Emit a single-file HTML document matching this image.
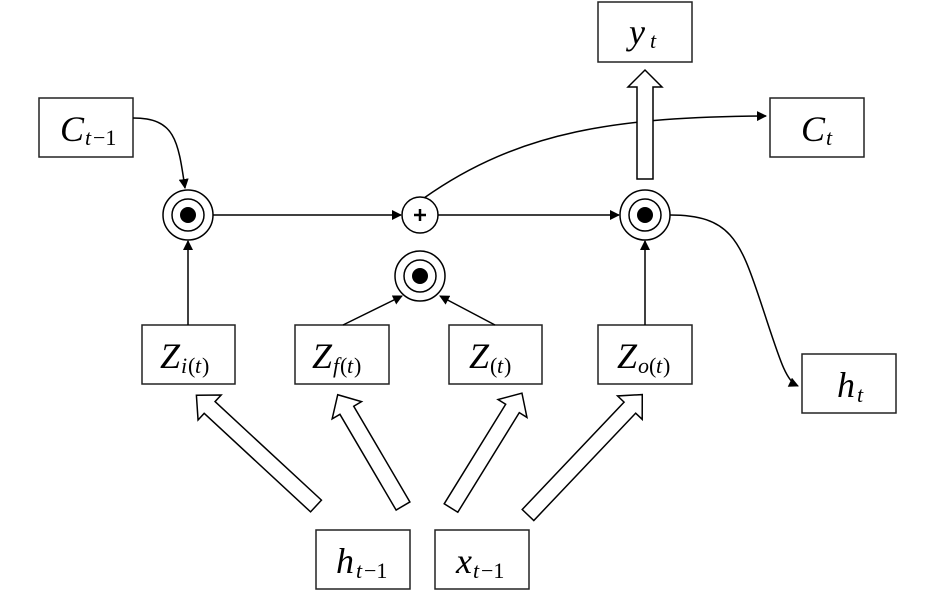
<!DOCTYPE html>
<html><head><meta charset="utf-8"><style>
html,body{margin:0;padding:0;background:#fff;}
svg{display:block;}
text{font-family:"Liberation Serif",serif;font-style:italic;fill:#000;}
.m{font-size:36px;}
.s{font-size:22px;}
</style></head><body>
<svg width="945" height="603" viewBox="0 0 945 603" xmlns="http://www.w3.org/2000/svg">
<defs>
<marker id="a" markerWidth="10" markerHeight="10" refX="9" refY="5" orient="auto" markerUnits="userSpaceOnUse">
<path d="M0,0 L10,5 L0,10 z" fill="#000"/></marker>
<g id="ha"><polygon points="0,-8 0,8 -1,8" /></g>
</defs>
<g fill="#fff" stroke="#222" stroke-width="1.5">
<rect x="39" y="98" width="94" height="59"/>
<rect x="142" y="325" width="93" height="59"/>
<rect x="295" y="325" width="94" height="59"/>
<rect x="449" y="325" width="93" height="59"/>
<rect x="598" y="325" width="94" height="59"/>
<rect x="598" y="2" width="94" height="60"/>
<rect x="770" y="98" width="94" height="59"/>
<rect x="802" y="354" width="94" height="59"/>
<rect x="316" y="530" width="94" height="59"/>
<rect x="435" y="530" width="94" height="59"/>
</g>
<g fill="#fff" stroke="#000" stroke-width="1.5">
<polygon transform="translate(316,506) rotate(222.8)" points="0,-8 145,-8 145,-17 163,0 145,17 145,8 0,8"/>
<polygon transform="translate(403,506) rotate(239.6)" points="0,-8 111,-8 111,-17 129,0 111,17 111,8 0,8"/>
<polygon transform="translate(451,508) rotate(-58.3)" points="0,-8 117,-8 117,-17 135,0 117,17 117,8 0,8"/>
<polygon transform="translate(528,515) rotate(-46.5)" points="0,-8 148,-8 148,-17 166,0 148,17 148,8 0,8"/>
</g>
<g fill="none" stroke="#000" stroke-width="1.5">
<path d="M133,118 C175,118 178,140 185,188" marker-end="url(#a)"/>
<line x1="213" y1="215" x2="401" y2="215" marker-end="url(#a)"/>
<line x1="438" y1="215" x2="619" y2="215" marker-end="url(#a)"/>
<line x1="188" y1="325" x2="188" y2="241" marker-end="url(#a)"/>
<line x1="343" y1="325" x2="402" y2="296" marker-end="url(#a)"/>
<line x1="495" y1="325" x2="440" y2="296" marker-end="url(#a)"/>
<line x1="645" y1="325" x2="645" y2="241" marker-end="url(#a)"/>
<path d="M424,198 C520,130 620,117 766,116" marker-end="url(#a)"/>
<path d="M670,215 C730,215 740,240 760,300 C780,360 785,380 798,386" marker-end="url(#a)"/>
</g>
<polygon transform="translate(645,179) rotate(-90)" fill="#fff" stroke="#000" stroke-width="1.5" points="0,-8 92,-8 92,-17 109,0 92,17 92,8 0,8"/>
<g fill="#fff" stroke="#000" stroke-width="1.5">
<circle cx="188" cy="215" r="25"/><circle cx="188" cy="215" r="16"/>
<circle cx="420" cy="276" r="25"/><circle cx="420" cy="276" r="16"/>
<circle cx="645" cy="215" r="25"/><circle cx="645" cy="215" r="16"/>
<circle cx="420" cy="215" r="18"/>
</g>
<g fill="#000">
<circle cx="188" cy="215" r="8"/><circle cx="420" cy="276" r="8"/><circle cx="645" cy="215" r="8"/>
</g>
<path d="M414,215 H426 M420,209 V221" stroke="#000" stroke-width="2.5"/>
<text x="60" y="141" class="m">C</text><text x="85" y="145" class="s">t</text><text x="93" y="145" class="s" style="font-style:normal">−1</text>
<text x="160" y="368" class="m">Z</text><text x="181" y="373" class="s">i</text><text x="188" y="373" class="s" style="font-style:normal">(</text><text x="195" y="373" class="s">t</text><text x="202" y="373" class="s" style="font-style:normal">)</text>
<text x="312" y="368" class="m">Z</text><text x="333" y="373" class="s">f</text><text x="340" y="373" class="s" style="font-style:normal">(</text><text x="347" y="373" class="s">t</text><text x="354" y="373" class="s" style="font-style:normal">)</text>
<text x="469" y="368" class="m">Z</text><text x="490" y="373" class="s" style="font-style:normal">(</text><text x="497" y="373" class="s">t</text><text x="504" y="373" class="s" style="font-style:normal">)</text>
<text x="617" y="368" class="m">Z</text><text x="638" y="373" class="s">o</text><text x="649" y="373" class="s" style="font-style:normal">(</text><text x="656" y="373" class="s">t</text><text x="663" y="373" class="s" style="font-style:normal">)</text>
<text x="629" y="44" class="m">y</text><text x="650" y="48" class="s">t</text>
<text x="801" y="141" class="m">C</text><text x="826" y="145" class="s">t</text>
<text x="837" y="397" class="m">h</text><text x="857" y="402" class="s">t</text>
<text x="336" y="573" class="m">h</text><text x="356" y="578" class="s">t</text><text x="364" y="578" class="s" style="font-style:normal">−1</text>
<text x="456" y="573" class="m">x</text><text x="473" y="578" class="s">t</text><text x="481" y="578" class="s" style="font-style:normal">−1</text>
</svg>
</body></html>
